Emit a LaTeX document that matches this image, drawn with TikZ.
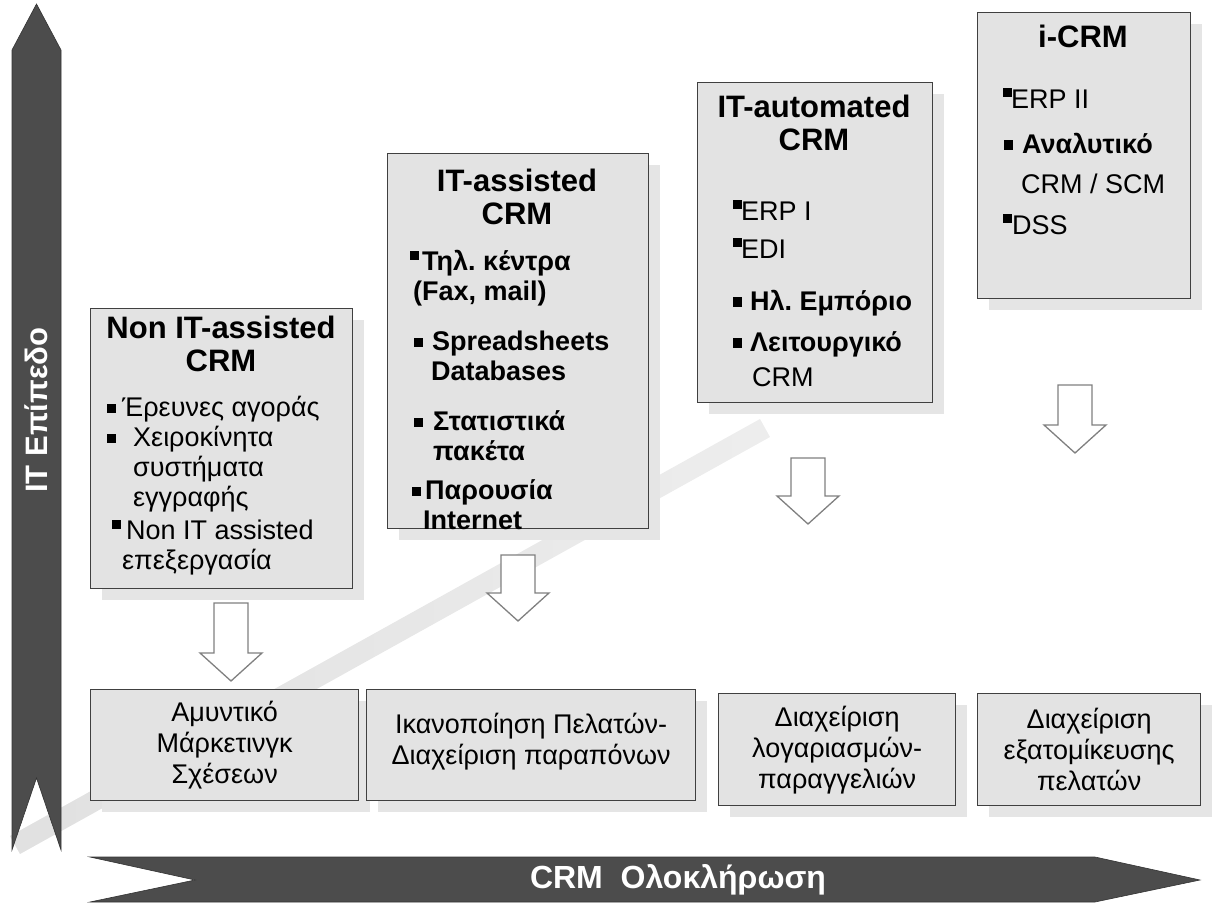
\documentclass[tikz,border=0pt]{standalone}
\usepackage{fontspec}
\setmainfont{Liberation Sans}
\usetikzlibrary{shadows, calc}
\frenchspacing

% small square bullets (middle / raised)
\newcommand{\sqb}{\raisebox{0.25ex}{\rule{0.34em}{0.34em}}}
\newcommand{\sqbh}{\raisebox{0.75ex}{\rule{0.34em}{0.34em}}}
\newcommand{\bu}[2]{\makebox[#2pt][l]{\hspace*{#1pt}\sqb}}
\newcommand{\bh}[2]{\makebox[#2pt][l]{\hspace*{#1pt}\sqbh}}

\begin{document}
\begin{tikzpicture}[x=1pt, y=-1pt,
  stagebox/.style={draw=black!75, line width=1.3pt, fill=black!11, inner sep=0pt, anchor=north west,
    drop shadow={shadow xshift=11pt, shadow yshift=-11pt, fill=black!10, opacity=1}},
  titletext/.style={font=\fontsize{31}{33}\selectfont\bfseries, align=center, inner sep=0pt, anchor=north},
  itemtext/.style={font=\fontsize{27}{30}\selectfont, align=left, inner sep=0pt, anchor=north west},
  outcome/.style={stagebox, align=center, font=\fontsize{27}{31}\selectfont},
  hollow/.style={draw=black!50, line width=1.3pt, fill=white, line join=miter},
  axisarrow/.style={fill=black!70, draw=black!80, line width=0.6pt},
  axislabel/.style={text=white, font=\fontsize{31}{33}\selectfont\bfseries, inner sep=0pt}]

  \useasboundingbox (0,0) rectangle (1224,904);

  % Diagonal band (background)
  \shade[left color=black!12, right color=black!7] (10,836) -- (760,419) -- (770,437) -- (20,854) -- cycle;

  % Axes
  \fill[axisarrow] (12,50) -- (36.5,4) -- (61,50) -- (61,850) -- (36.5,778) -- (12,850) -- cycle;
  \node[axislabel, rotate=90] (itlevel) at (36,410) {IT Επίπεδο};
  \fill[axisarrow] (90,857) -- (1095,857) -- (1200,880) -- (1095,902) -- (90,902) -- (195,880) -- cycle;
  \node[axislabel, font=\fontsize{32}{34}\selectfont\bfseries] (crmint) at (678,880) {CRM\ \ Ολοκλήρωση};

  % Stage 1
  \node[stagebox, minimum width=262pt, minimum height=280pt] (nonit) at (90,308) {};
  \node[titletext] (nonitT) at (221,316) {Non IT-assisted\\CRM};
  \node[itemtext] (nonitL) at (104,396) {%
    \bu{3}{18}Έρευνες αγοράς\\
    \bu{3}{29}Χειροκίνητα\\
    \hspace*{29pt}συστήματα\\
    \hspace*{29pt}εγγραφής\\[3pt]
    \bh{8}{22}Non IT assisted\\
    \hspace*{18pt}επεξεργασία};

  % Stage 2
  \node[stagebox, minimum width=261pt, minimum height=375pt] (itass) at (387,153) {};
  \node[titletext] (itassT) at (517,169) {IT-assisted\\CRM};
  \node[itemtext, font=\fontsize{27}{30}\selectfont\bfseries] (itassL) at (407,250) {%
    \bh{3}{15}Τηλ. κέντρα\\
    \hspace*{6pt}(Fax, mail)\\[20pt]
    \bu{7}{25}Spreadsheets\\
    \hspace*{24pt}Databases\\[20pt]
    \bu{7}{26}Στατιστικά\\
    \hspace*{26pt}πακέτα\\[9pt]
    \bu{5}{18}Παρουσία\\
    \hspace*{16pt}Internet};

  % Stage 3
  \node[stagebox, minimum width=235pt, minimum height=320pt] (itauto) at (697,82) {};
  \node[titletext] (itautoT) at (814,95) {IT-automated\\CRM};
  \node[itemtext] (itautoL) at (730,200) {%
    \bh{3}{11}ERP I\\[8pt]
    \bh{3}{11}EDI\\[22pt]
    \bu{3}{20}\textbf{Ηλ. Εμπόριο}\\[11pt]
    \bu{3}{20}\textbf{Λειτουργικό}\\[5pt]
    \hspace*{22pt}CRM};

  % Stage 4
  \node[stagebox, minimum width=213pt, minimum height=286pt] (icrm) at (977,12) {};
  \node[titletext] (icrmT) at (1083,25) {i-CRM};
  \node[itemtext] (icrmL) at (1000,88) {%
    \bh{3}{11}ERP II\\[15pt]
    \bu{4}{22}\textbf{Αναλυτικό}\\[10pt]
    \hspace*{21pt}CRM / SCM\\[11pt]
    \bh{3}{12}DSS};

  % Outcomes
  \node[outcome, minimum width=268pt, minimum height=111pt] (defmkt) at (90,689) {Αμυντικό\\Μάρκετινγκ\\Σχέσεων};
  \node[outcome, minimum width=329pt, minimum height=111pt] (satisf) at (366,689) {Ικανοποίηση Πελατών-\\Διαχείριση παραπόνων\\[-18pt]};
  \node[outcome, minimum width=237pt, minimum height=112pt] (accmgmt) at (718,693) {Διαχείριση\\λογαριασμών-\\παραγγελιών};
  \node[outcome, minimum width=223pt, minimum height=112pt] (persmgmt) at (977,693) {Διαχείριση\\εξατομίκευσης\\πελατών};

  % Hollow arrows
  \foreach \x/\y/\l [count=\i] in {231/603/50, 518/555/38, 808/458/38, 1075/385/40} {
    \coordinate (dn\i) at (\x,\y);
    \draw[hollow] (dn\i) ++(-17,0) -- ++(34,0) -- ++(0,\l) -- ++(14,0) -- ++(-31,28) -- ++(-31,-28) -- ++(14,0) -- cycle;
  }

\end{tikzpicture}
\end{document}
